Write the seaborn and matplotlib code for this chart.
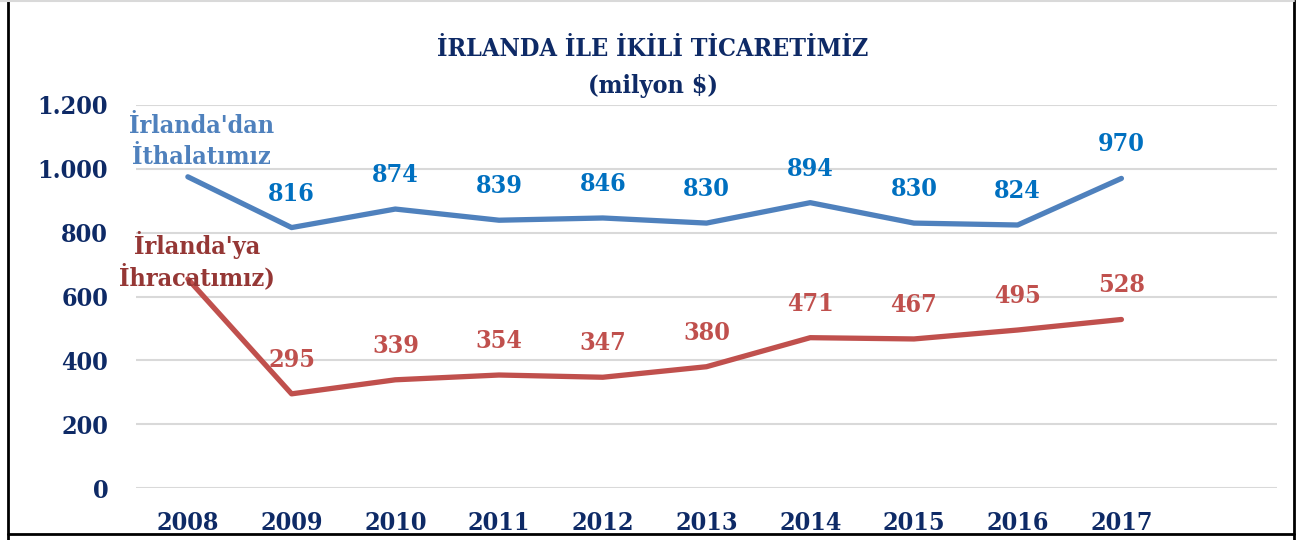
import matplotlib
matplotlib.use("Agg")
import matplotlib.pyplot as plt
import seaborn as sns
import pandas as pd
from matplotlib.lines import Line2D
from matplotlib.ticker import FuncFormatter

years = ["2008", "2009", "2010", "2011", "2012", "2013", "2014", "2015", "2016", "2017"]
imports = [975, 816, 874, 839, 846, 830, 894, 830, 824, 970]
exports = [655, 295, 339, 354, 347, 380, 471, 467, 495, 528]
import_name = "İrlanda'dan\nİthalatımız"
export_name = "İrlanda'ya\nİhracatımız)"
title = "İRLANDA İLE İKİLİ TİCARETİMİZ\n(milyon $)"
yticks = [0, 200, 400, 600, 800, 1000, 1200]

sns.set_theme(style="white")
plt.rcParams['font.family'] = ['DejaVu Serif', 'DejaVu Sans']
plt.rcParams['font.stretch'] = 'condensed'

NAVY = "#0E2A66"
BLUE_LINE = "#4F81BD"
BLUE_LBL = "#0070C0"
RED_LINE = "#C0504D"
RED_LBL = "#C0504D"
BLUE_NAME = "#4F81BD"
RED_NAME = "#953735"
FS = 18

df = pd.DataFrame({
    "x": list(range(len(years))) * 2,
    "value": imports + exports,
    "series": ["imp"] * len(years) + ["exp"] * len(years),
})

fig = plt.figure(figsize=(13.04, 5.40), dpi=100)
ax = fig.add_axes([136/1304, (540-488)/540, (1277-136)/1304, (488-105)/540])

sns.lineplot(data=df, x="x", y="value", hue="series",
             palette={"imp": BLUE_LINE, "exp": RED_LINE},
             linewidth=3.8, ax=ax, legend=False, sort=False,
             solid_capstyle="round", solid_joinstyle="round")
for ln in ax.lines:
    ln.set_clip_on(False)

ax.set_xlim(-0.5, 10.5)
ax.set_ylim(0, 1200)
ax.set_yticks(yticks)
ax.yaxis.set_major_formatter(FuncFormatter(lambda v, p: f"{int(v):,}".replace(",", ".")))
ax.set_xticks(range(len(years)))
ax.set_xticklabels(years)
ax.grid(axis="y", color="#D9D9D9", linewidth=1.5)
ax.grid(axis="x", visible=False)
ax.set_axisbelow(True)
for s in ax.spines.values():
    s.set_visible(False)
ax.tick_params(axis="y", length=0, pad=20, labelsize=FS, labelcolor=NAVY)
ax.tick_params(axis="x", length=0, pad=16.5, labelsize=FS, labelcolor=NAVY)
for lbl in ax.get_xticklabels() + ax.get_yticklabels():
    lbl.set_fontweight("bold")
ax.set_xlabel("")
ax.set_ylabel("")

for i, v in enumerate(imports):
    if i == 0:
        continue
    ax.annotate(str(v), (i, v), xytext=(0, 24.5), textcoords="offset points",
                ha="center", va="center", fontsize=FS, fontweight="bold", color=BLUE_LBL)
for i, v in enumerate(exports):
    if i == 0:
        continue
    ax.annotate(str(v), (i, v), xytext=(0, 24.5), textcoords="offset points",
                ha="center", va="center", fontsize=FS, fontweight="bold", color=RED_LBL)

ax.annotate(import_name, (0, imports[0]), xytext=(10, 25.5), textcoords="offset points",
            ha="center", va="center", fontsize=FS, fontweight="bold", color=BLUE_NAME,
            linespacing=1.35)
ax.annotate(export_name, (0, exports[0]), xytext=(6.5, 13.5), textcoords="offset points",
            ha="center", va="center", fontsize=FS, fontweight="bold", color=RED_NAME,
            linespacing=1.2)

fig.text(653/1304, 1 - 67.5/540, title, ha="center", va="center", fontsize=18,
         fontweight="bold", color=NAVY, linespacing=1.7)

# frame
fig.add_artist(Line2D([8/1304, 8/1304], [0, 1], color="black", lw=2, transform=fig.transFigure))
fig.add_artist(Line2D([1294/1304, 1294/1304], [0, 1], color="black", lw=2, transform=fig.transFigure))
fig.add_artist(Line2D([8/1304, 1294/1304], [1 - 534/540] * 2, color="black", lw=2, transform=fig.transFigure))
fig.add_artist(Line2D([0, 1294/1304], [1 - 1/540] * 2, color="#D9D9D9", lw=1.5, transform=fig.transFigure))

fig.savefig("out.png", dpi=100, facecolor="white")
